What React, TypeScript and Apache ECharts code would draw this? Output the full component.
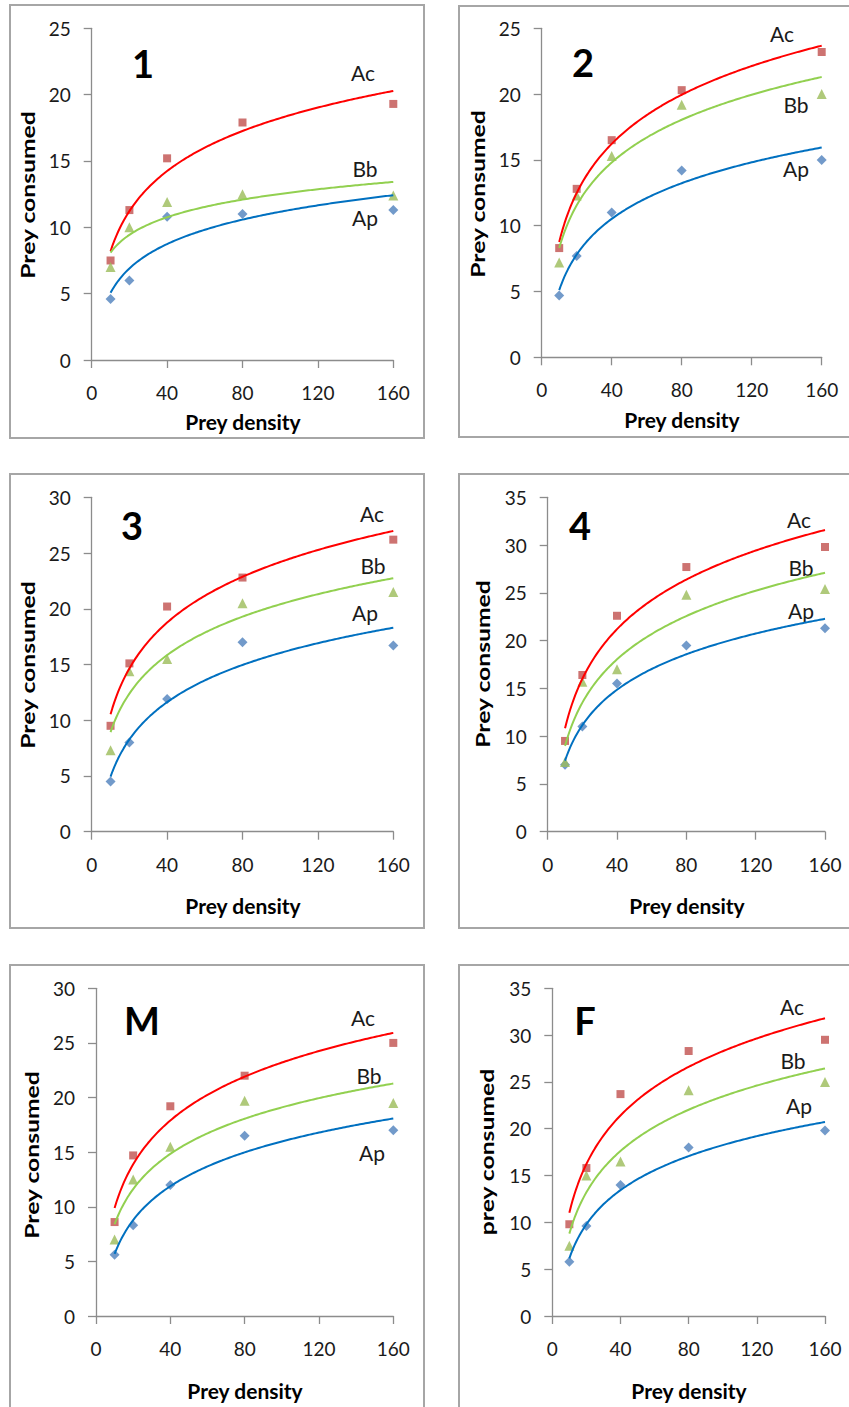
import React, { useEffect, useRef } from "react";
import * as echarts from "echarts";

// ---- Data ----
const preyDensity = [10, 20, 40, 80, 160];
const xTicks = [0, 40, 80, 120, 160];

const p1Ap = [4.6, 6.0, 10.8, 11.0, 11.3];
const p1Ac = [7.5, 11.3, 15.2, 17.9, 19.3];
const p1Bb = [7.0, 10.0, 11.9, 12.5, 12.4];

const p2Ap = [4.7, 7.7, 11.0, 14.2, 15.0];
const p2Ac = [8.3, 12.8, 16.5, 20.3, 23.2];
const p2Bb = [7.2, 12.3, 15.3, 19.2, 20.0];

const p3Ap = [4.5, 8.0, 11.9, 17.0, 16.7];
const p3Ac = [9.5, 15.1, 20.2, 22.8, 26.2];
const p3Bb = [7.3, 14.4, 15.5, 20.5, 21.5];

const p4Ap = [7.0, 11.0, 15.5, 19.5, 21.3];
const p4Ac = [9.5, 16.4, 22.6, 27.7, 29.8];
const p4Bb = [7.3, 15.7, 17.0, 24.8, 25.4];

const pMAp = [5.6, 8.3, 12.0, 16.5, 17.0];
const pMAc = [8.6, 14.7, 19.2, 22.0, 25.0];
const pMBb = [7.0, 12.5, 15.5, 19.7, 19.5];

const pFAp = [5.8, 9.6, 14.0, 18.0, 19.8];
const pFAc = [9.8, 15.8, 23.7, 28.3, 29.5];
const pFBb = [7.5, 15.0, 16.5, 24.1, 25.0];

const panelTitles = ["1", "2", "3", "4", "M", "F"];
const yMaxes = [25, 25, 30, 35, 30, 35];
const yTitles = ["Prey consumed", "Prey consumed", "Prey consumed", "Prey consumed", "Prey consumed", "prey consumed"];
const panelData = [
  { Ap: p1Ap, Ac: p1Ac, Bb: p1Bb },
  { Ap: p2Ap, Ac: p2Ac, Bb: p2Bb },
  { Ap: p3Ap, Ac: p3Ac, Bb: p3Bb },
  { Ap: p4Ap, Ac: p4Ac, Bb: p4Bb },
  { Ap: pMAp, Ac: pMAc, Bb: pMBb },
  { Ap: pFAp, Ac: pFAc, Bb: pFBb },
];

// ---- Layout (positions in px) ----
const layouts = [
  { x0: 91.7, x1: 393.3, yb: 360, yt: 28.3, box: [10, 5, 414, 433], xt: [243, 421], yl: [28, 195], num: [143, 63], ac: [363, 72], bb: [365, 168], ap: [365, 217] },
  { x0: 541.7, x1: 821.7, yb: 357.3, yt: 28.3, box: [459, 6, 420, 431], xt: [682, 419], yl: [478, 194], num: [583, 62], ac: [782, 33], bb: [796, 104], ap: [796, 168] },
  { x0: 91.7, x1: 393.3, yb: 831.7, yt: 497.3, box: [10, 474, 414, 454], xt: [243, 905], yl: [28, 665], num: [132, 525], ac: [372, 513], bb: [373, 565], ap: [365, 612] },
  { x0: 547.7, x1: 825, yb: 831.7, yt: 497.3, box: [459, 474, 420, 454], xt: [687, 905], yl: [483, 664], num: [580, 525], ac: [799, 519], bb: [801, 567], ap: [801, 610] },
  { x0: 96, x1: 393.3, yb: 1316, yt: 988.3, box: [10, 965, 414, 520], xt: [245, 1390], yl: [32, 1155], num: [142, 1020], ac: [363, 1017], bb: [369, 1075], ap: [372, 1152] },
  { x0: 552.3, x1: 825, yb: 1316, yt: 988.3, box: [459, 965, 420, 520], xt: [689, 1390], yl: [487, 1152], num: [585, 1020], ac: [792, 1006], bb: [793, 1060], ap: [799, 1105] },
];

const FONT = "Lato, 'Noto Sans', sans-serif";
const AXIS_COLOR = "#8c8c8c";
const MARK = { Ap: "#4f81bd", Ac: "#c0504d", Bb: "#9bbb59" };
const TREND = { Ap: "#0070c0", Ac: "#ff0000", Bb: "#92d050" };
const SYMBOL = { Ap: "diamond", Ac: "rect", Bb: "triangle" };
const SYMSIZE = { Ap: 10, Ac: 8, Bb: 10 };

// Logarithmic least-squares trendline (as Excel draws), computed from the data points
function logFit(xs: number[], ys: number[]) {
  const lx = xs.map((v) => Math.log(v));
  const n = xs.length;
  const mx = lx.reduce((s, v) => s + v, 0) / n;
  const my = ys.reduce((s, v) => s + v, 0) / n;
  let sxy = 0, sxx = 0;
  for (let i = 0; i < n; i++) {
    sxy += (lx[i] - mx) * (ys[i] - my);
    sxx += (lx[i] - mx) * (lx[i] - mx);
  }
  const a = sxy / sxx;
  const b = my - a * mx;
  const pts: number[][] = [];
  const lo = Math.min(...xs), hi = Math.max(...xs);
  for (let x = lo; x <= hi; x += 1) pts.push([x, a * Math.log(x) + b]);
  return pts;
}

function buildOption() {
  const grid: any[] = [];
  const xAxis: any[] = [];
  const yAxis: any[] = [];
  const series: any[] = [];
  const graphic: any[] = [];

  layouts.forEach((L, i) => {
    const [bx, by, bw, bh] = L.box;
    graphic.push({
      type: "rect",
      shape: { x: bx, y: by, width: bw, height: bh },
      style: { fill: "none", stroke: "#a6a6a6", lineWidth: 2 },
      z: 0,
    });
    grid.push({ left: L.x0, top: L.yt, width: L.x1 - L.x0, height: L.yb - L.yt, containLabel: false });
    xAxis.push({
      gridIndex: i,
      type: "value",
      min: 0,
      max: 160,
      interval: 40,
      axisLine: { show: true, lineStyle: { color: AXIS_COLOR, width: 1.3 } },
      axisTick: { show: true, inside: false, length: 8, lineStyle: { color: AXIS_COLOR, width: 1.3 } },
      axisLabel: { fontFamily: FONT, fontSize: 19, color: "#1a1a1a", margin: 23, customValues: xTicks },
      splitLine: { show: false },
    });
    yAxis.push({
      gridIndex: i,
      type: "value",
      min: 0,
      max: yMaxes[i],
      interval: 5,
      axisLine: { show: true, onZero: false, lineStyle: { color: AXIS_COLOR, width: 1.3 } },
      axisTick: { show: true, inside: false, length: 8, lineStyle: { color: AXIS_COLOR, width: 1.3 } },
      axisLabel: { fontFamily: FONT, fontSize: 19, color: "#1a1a1a", margin: 21 },
      splitLine: { show: false },
    });
    const d = panelData[i] as any;
    (["Ap", "Ac", "Bb"] as const).forEach((k) => {
      series.push({
        type: "scatter",
        name: k,
        xAxisIndex: i,
        yAxisIndex: i,
        symbol: SYMBOL[k],
        symbolSize: SYMSIZE[k],
        itemStyle: { color: MARK[k] },
        data: preyDensity.map((x, j) => [x, d[k][j]]),
        z: 2,
      });
    });
    (["Ap", "Ac", "Bb"] as const).forEach((k) => {
      series.push({
        type: "line",
        name: k + " trend",
        xAxisIndex: i,
        yAxisIndex: i,
        showSymbol: false,
        symbol: "none",
        lineStyle: { color: TREND[k], width: 2 },
        data: logFit(preyDensity, d[k]),
        z: 3,
      });
    });

    graphic.push({
      type: "text",
      x: L.xt[0], y: L.xt[1],
      style: { text: "Prey density", fontFamily: FONT, fontWeight: "bold", fontSize: 21, fill: "#000", textAlign: "center", textVerticalAlign: "middle" },
    });
    graphic.push({
      type: "text",
      x: L.yl[0], y: L.yl[1],
      rotation: Math.PI / 2,
      scaleX: 1.3,
      style: { text: yTitles[i], fontFamily: FONT, fontWeight: "bold", fontSize: 19, fill: "#000", textAlign: "center", textVerticalAlign: "middle" },
    });
    graphic.push({
      type: "text",
      x: L.num[0], y: L.num[1],
      style: { text: panelTitles[i], fontFamily: FONT, fontWeight: "bold", fontSize: 38, fill: "#000", textAlign: "center", textVerticalAlign: "middle" },
    });
    ([["Ac", L.ac], ["Bb", L.bb], ["Ap", L.ap]] as any[]).forEach(([t, p]) => {
      graphic.push({
        type: "text",
        x: p[0], y: p[1],
        style: { text: t, fontFamily: FONT, fontSize: 21, fill: "#1a1a1a", textAlign: "center", textVerticalAlign: "middle" },
      });
    });
  });

  return {
    animation: false,
    backgroundColor: "#ffffff",
    grid,
    xAxis,
    yAxis,
    series,
    graphic,
  };
}

export default function App() {
  const ref = useRef<HTMLDivElement>(null);
  useEffect(() => {
    if (!ref.current) return;
    const chart = echarts.init(ref.current, undefined, { renderer: "svg" });
    chart.setOption(buildOption() as any);
    return () => chart.dispose();
  }, []);
  return (
    <div
      ref={ref}
      style={{ position: "absolute", left: 0, top: 0, width: 849, height: 1407, background: "#fff" }}
    />
  );
}
